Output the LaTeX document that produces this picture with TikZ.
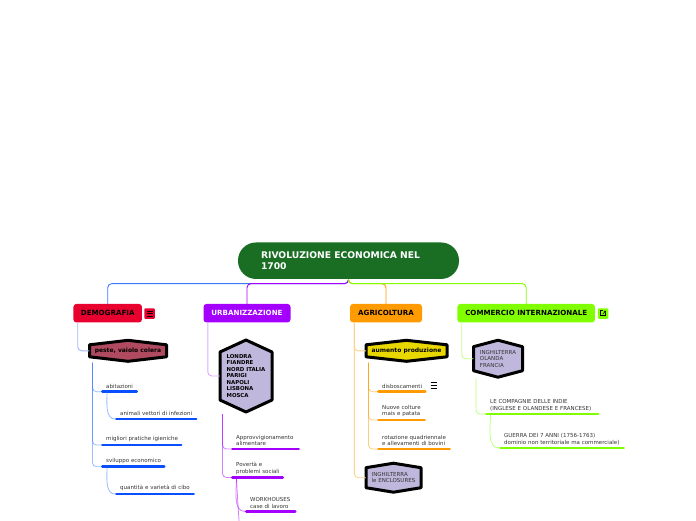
\documentclass[tikz,border=0pt]{standalone}
\usepackage{fontspec}
\setmainfont{DejaVu Sans}
\definecolor{rootgreen}{HTML}{1A6E24}
\definecolor{demored}{HTML}{E8002F}
\definecolor{demoblue}{HTML}{0A4FFF}
\definecolor{linkblue}{HTML}{3A78FF}
\definecolor{urbpurple}{HTML}{A400FF}
\definecolor{agrorange}{HTML}{FF9A00}
\definecolor{comgreen}{HTML}{80FF00}
\definecolor{hexlilac}{HTML}{BFB8DC}
\definecolor{hexrose}{HTML}{B04A60}
\definecolor{hexyellow}{HTML}{E8D800}
\definecolor{subgrey}{HTML}{333333}
\tikzset{
  topic/.style={rounded corners=3pt,inner sep=0pt,minimum height=18.5pt,font=\fontsize{7.1}{8}\selectfont\bfseries},
  icon/.style={rounded corners=1pt,inner sep=0pt,minimum width=10.5pt,minimum height=10.5pt},
  sub/.style 2 args={font=\fontsize{5.5}{6.6}\selectfont,text=subgrey,inner xsep=5pt,inner ysep=3pt,
    text width=180pt,align=left,anchor=south west,
    append after command={([xshift=1.3pt]\tikzlastnode.south west) edge[#1,line width=2.6pt,line cap=round] ([xshift=#2pt-1.3pt]\tikzlastnode.south west)}},
  conn/.style={line width=.8pt,rounded corners=4pt,opacity=.5},
  trunk/.style={line width=.9pt,rounded corners=4pt},
  hexbold/.style={font=\fontsize{6}{6.5}\selectfont\bfseries},
  hexcity/.style={font=\fontsize{5.4}{6.5}\selectfont\bfseries},
  hexplain/.style={font=\fontsize{5.5}{6.5}\selectfont,text=subgrey},
}
% hexagon: name, x, y, half width, half height, side drop, fill, font style, text
\newcommand{\hexnode}[9]{
  \draw[line width=3pt,line join=round,fill=#7] (#2,#3) ++(0,-#5) -- ++(#4,#6) -- ++(0,{2*#5-2*#6}) -- ++(-#4,#6) -- ++(-#4,-#6) -- ++(0,{2*#6-2*#5}) -- cycle;
  \node[#8,inner sep=0pt,minimum width=2*#4 pt,minimum height=2*#5 pt,align=left] (#1) at (#2,#3) {#9};
}
\begin{document}
\begin{tikzpicture}[x=1pt,y=-1pt]
	\path[clip,use as bounding box] (0,0) rectangle (696,520);

	\node[fill=rootgreen,rounded corners=18pt,text=white,minimum width=221pt,minimum height=36.5pt,inner xsep=23pt,inner ysep=0pt,text width=175pt,align=left,font=\fontsize{9.2}{11}\selectfont\bfseries] (root) at (348.5,260.7) {RIVOLUZIONE ECONOMICA NEL\\1700};

	\node[topic,fill=demored,minimum width=68.5pt] (demografia) at (107.7,313.2) {DEMOGRAFIA};
	\node[topic,fill=urbpurple,text=white,minimum width=87pt] (urbanizzazione) at (247,313.2) {URBANIZZAZIONE};
	\node[topic,fill=agrorange,minimum width=72pt] (agricoltura) at (386,313.2) {AGRICOLTURA};
	\node[topic,fill=comgreen,minimum width=137.5pt] (commercio) at (526.2,313.2) {COMMERCIO INTERNAZIONALE};

	\draw[linkblue,trunk] (root.south) -- ++(0,4.5) -| (demografia.north);
	\draw[urbpurple,trunk] (root.south) -- ++(0,4.5) -| (urbanizzazione.north);
	\draw[agrorange,trunk] (root.south) -- ++(0,4.5) -| (agricoltura.north);
	\draw[comgreen,trunk] (root.south) -- ++(0,4.5) -| (commercio.north);

	% icons beside the topics
	\node[icon,fill=demored] (demoicon) at (149.5,313.5) {};
	\foreach \dy in {-2.5,0,2.5}
		\draw[line width=.5pt] ([xshift=-3pt,yshift=\dy pt]demoicon.center) -- ++(6,0);
	\node[icon,fill=comgreen] (comicon) at (603.2,313.5) {};
	\draw[line width=.5pt] ([shift={(2.5pt,.5pt)}]comicon.center) -- ++(0,2.5) -- ++(-5.5,0) -- ++(0,-5.5) -- ++(2.5,0);
	\draw[line width=.5pt] ([xshift=-.5pt,yshift=-.5pt]comicon.center) -- ++(3,-3) ++(-2,0) -- ++(2,0) -- ++(0,2);

	\hexnode{peste}{128}{350.8}{38.5}{10.5}{4.5}{hexrose}{hexbold}{peste, vaiolo colera}
	\hexnode{citta}{246}{376}{26}{36}{12}{hexlilac}{hexcity}{LONDRA\\FIANDRE\\NORD ITALIA\\PARIGI\\NAPOLI\\LISBONA\\MOSCA}
	\hexnode{aumento}{406.5}{350.8}{40.5}{10.5}{4.5}{hexyellow}{hexbold}{aumento produzione}
	\hexnode{enclosures}{393.5}{477.7}{27.5}{14.5}{4.5}{hexlilac}{hexplain}{INGHILTERRA\\le ENCLOSURES}
	\hexnode{paesi}{498}{358.7}{24.5}{18.5}{6.5}{hexlilac}{hexplain}{INGHILTERRA\\OLANDA\\FRANCIA}

	\draw[demoblue!40,trunk] ([xshift=4.5pt]demografia.south west) |- (peste.west);
	\draw[urbpurple!35,trunk] ([xshift=4.5pt]urbanizzazione.south west) |- (citta.west);
	\draw[agrorange!45,trunk] ([xshift=4.5pt]agricoltura.south west) |- (aumento.west);
	\draw[agrorange!45,trunk] ([xshift=4.5pt]agricoltura.south west) |- (enclosures.west);
	\draw[comgreen!45,trunk] ([xshift=4.5pt]commercio.south west) |- (paesi.west);

	% demografia
	\node[sub={demoblue}{37}] (abitazioni) at (101,391.7) {abitazioni};
	\node[sub={demoblue}{82.5}] (animali) at (115,419) {animali vettori di infezioni};
	\node[sub={demoblue}{81.5}] (igiene) at (101,445) {migliori pratiche igieniche};
	\node[sub={demoblue}{64.5}] (sviluppo) at (101,466.7) {sviluppo economico};
	\node[sub={demoblue}{80}] (cibo) at (115,494) {quantità e varietà di cibo};
	\coordinate (pesteout) at (92.5,362.5);
	\foreach \target in {abitazioni,igiene,sviluppo}
		\draw[linkblue,conn] (pesteout) |- (\target.south west);
	\draw[linkblue,conn] ([xshift=6pt]abitazioni.south west) to[out=270,in=180,looseness=.9] (animali.south west);
	\draw[linkblue,conn] ([xshift=6pt]sviluppo.south west) to[out=270,in=180,looseness=.9] (cibo.south west);

	% urbanizzazione
	\node[sub={urbpurple}{69}] (approvv) at (231,449) {Approvvigionamento\\alimentare};
	\node[sub={urbpurple}{53}] (poverta) at (231,477.5) {Povertà e\\problemi sociali};
	\node[sub={urbpurple}{51.5}] (workhouses) at (245,511.5) {WORKHOUSES\\case di lavoro};
	\coordinate (cittaout) at (222.5,414);
	\coordinate (offpage) at (240,530);
	\foreach \target in {approvv,poverta}
		\draw[urbpurple,conn] (cittaout) |- (\target.south west);
	\draw[urbpurple,conn] ([xshift=5.5pt]poverta.south west) to[out=270,in=180,looseness=.9] (workhouses.south west);
	\draw[urbpurple,conn] ([xshift=5.5pt]poverta.south west) to[out=270,in=265,looseness=.2] (offpage);

	% agricoltura
	\node[sub={agrorange}{49.5}] (disbosc) at (377,391.7) {disboscamenti};
	\node[sub={agrorange}{49}] (colture) at (377,420) {Nuove colture\\mais e patata};
	\node[sub={agrorange}{74}] (rotazione) at (377,449) {rotazione quadriennale\\e allevamenti di bovini};
	\coordinate (aumentoout) at (368.5,362.5);
	\foreach \target in {disbosc,colture,rotazione}
		\draw[agrorange,conn] (aumentoout) |- (\target.south west);
	\node[inner sep=0pt,minimum width=6.5pt,minimum height=6.5pt] (disboscicon) at (433.8,385) {};
	\foreach \dy in {-3,0,3}
		\draw[line width=.5pt] ([xshift=-3.2pt,yshift=\dy pt]disboscicon.center) -- ++(6.4,0);

	% commercio
	\node[sub={comgreen}{114.5}] (compagnie) at (485,414) {LE COMPAGNIE DELLE INDIE\\(INGLESE E OLANDESE E FRANCESE)};
	\node[sub={comgreen}{126}] (guerra) at (499,448) {GUERRA DEI 7 ANNI (1756-1763)\\dominio non territoriale ma commerciale)};
	\coordinate (paesiout) at (476,378);
	\draw[comgreen,conn] (paesiout) |- (compagnie.south west);
	\draw[comgreen,conn] ([xshift=5.5pt]compagnie.south west) to[out=270,in=180,looseness=.9] (guerra.south west);
\end{tikzpicture}
\end{document}
